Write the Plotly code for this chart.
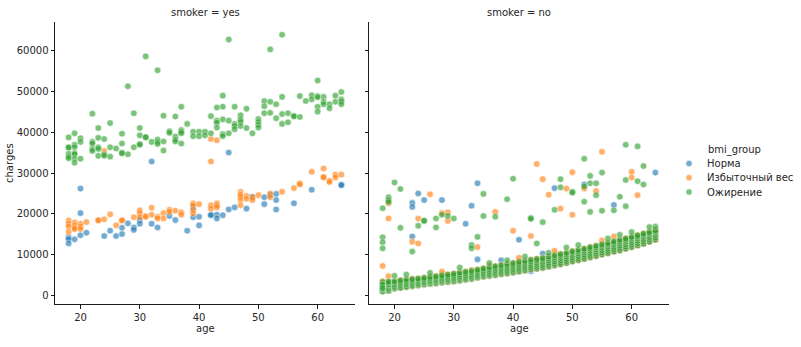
import plotly.graph_objects as go

# ---------------- data ----------------
groups = ["Норма", "Избыточный вес", "Ожирение"]
group_colors = ["#1f77b4", "#ff7f0e", "#2ca02c"]

# smoker = yes : (age, charges)
yes_normal = [(18, 14300), (18, 13800), (18, 12800), (19, 13800), (20, 26200), (20, 20200), (20, 14800),
              (21, 15400), (24, 14600), (25, 15900), (26, 14600), (27, 16600), (27, 15100), (28, 17700),
              (29, 16700), (29, 16100), (30, 18500), (30, 17600), (32, 32800), (32, 17600), (33, 16700),
              (35, 19500), (36, 18500), (38, 15900), (39, 21500), (39, 19200), (40, 19300), (40, 17200),
              (42, 19800), (42, 19700), (43, 19800), (43, 18900), (44, 19700), (45, 35000), (45, 21100),
              (46, 21600), (48, 21300), (49, 24200), (51, 24100), (51, 22400), (52, 24600), (53, 24900),
              (53, 23400), (53, 21100), (56, 22600), (59, 25900), (64, 27200), (64, 27000)]

yes_overweight = [(24, 35400), (42, 38300), (42, 32800), (43, 38000),
                  (18, 18400), (18, 17600), (18, 16900), (18, 15600), (19, 17900), (19, 17200), (19, 16600),
                  (19, 16300), (20, 17600), (20, 16900), (20, 16300), (21, 18000), (23, 18500), (23, 18400),
                  (24, 18700), (25, 19900), (26, 17200), (27, 18500), (27, 18400), (29, 19200), (30, 20900),
                  (30, 20200), (30, 19200), (31, 19500), (31, 19300), (32, 21500), (32, 19800), (33, 19300),
                  (33, 18900), (34, 20200), (34, 18900), (35, 21000), (35, 20500), (36, 20800), (37, 20400),
                  (37, 19800), (39, 22600), (39, 22100), (39, 21000), (39, 20200), (40, 22400), (42, 22100),
                  (42, 21300), (43, 22600), (43, 22100), (43, 21600), (47, 25400), (47, 24700), (47, 24200),
                  (47, 23400), (47, 22100), (48, 24400), (48, 23700), (49, 24100), (49, 23400), (50, 24600),
                  (52, 25000), (52, 24100), (54, 25400), (56, 26300), (57, 27500), (57, 27200), (59, 30300),
                  (61, 31100), (61, 29100), (61, 28900), (62, 28100), (62, 27800), (63, 29600), (63, 28900),
                  (64, 29600)]

yes_obese = [(18, 38700), (18, 36300), (18, 36200), (18, 34700), (18, 34000), (18, 33600),
             (19, 39700), (19, 36900), (19, 36300), (19, 34900), (19, 34600), (19, 33500), (19, 32500),
             (20, 38500), (20, 37600), (20, 33500),
             (22, 44500), (22, 37600), (22, 37200), (22, 35900), (22, 35400),
             (23, 41000), (23, 38600), (23, 36300), (23, 35900), (23, 34200),
             (24, 38300), (24, 34600), (24, 34200), (25, 42200), (25, 36300), (25, 34000), (26, 36000),
             (27, 39600), (27, 37200), (27, 35000), (27, 34800), (28, 51200), (28, 34600),
             (29, 44600), (29, 36300), (30, 41000), (30, 39200), (30, 37100), (30, 36900),
             (31, 58500), (31, 38800), (31, 38700), (32, 37600),
             (33, 55100), (33, 38200), (33, 37600), (33, 37100), (34, 44000), (34, 37700), (34, 35500),
             (35, 40200), (35, 39800), (36, 43800), (36, 38900), (36, 38200), (36, 37700),
             (37, 46200), (37, 40500), (37, 40100), (37, 39700), (37, 37200), (38, 42000),
             (39, 40100), (39, 39000), (40, 40100), (40, 39000), (41, 40100), (41, 39200),
             (42, 43900), (42, 39700), (43, 46000), (43, 42800), (43, 42300), (43, 41100),
             (44, 48900), (44, 46200), (44, 43100), (44, 39500), (44, 39000),
             (45, 62600), (45, 42800), (45, 39700), (46, 46200), (46, 42000), (46, 41500), (46, 40700),
             (47, 44100), (47, 43100), (47, 42500), (47, 41500), (48, 45700), (48, 41000), (49, 39700),
             (50, 43200), (50, 42500), (50, 41800), (50, 41100), (51, 47600), (51, 46300), (51, 44600),
             (52, 60200), (52, 47400), (52, 44700), (53, 46800), (53, 43400),
             (54, 63800), (54, 48600), (54, 44400), (54, 42000), (55, 44600), (55, 42400),
             (56, 44000), (56, 43800), (57, 48800), (57, 43700), (58, 47600), (59, 49000), (59, 48000),
             (60, 52600), (60, 48800), (60, 48500), (60, 46200), (60, 45000),
             (61, 48600), (61, 47400), (61, 46800), (62, 46800), (62, 45800), (63, 48900), (63, 47400),
             (64, 49800), (64, 48000), (64, 47500), (64, 46800)]

# smoker = no : points off the main band, (age, charges)
no_normal_high = [(23, 22700), (23, 21700), (23, 14500), (24, 25000), (25, 23400), (28, 23400), (32, 17600),
                  (33, 22000), (34, 27500), (34, 8900), (41, 13700), (47, 26300), (52, 27200), (57, 22200),
                  (64, 30100), (38, 8700), (45, 10300), (43, 6000)]

no_overweight_high = [(18, 7300), (19, 22600), (19, 18900), (19, 4800), (23, 13200), (24, 18900), (24, 12800),
                      (26, 24800), (28, 20200), (29, 20400), (29, 18300), (34, 11900), (37, 20500), (40, 15900),
                      (41, 9300), (43, 14600), (44, 32200), (45, 28500), (46, 24700), (48, 21300), (49, 26200),
                      (50, 30200), (50, 19800), (52, 26200), (54, 25600), (55, 35200), (57, 14500), (60, 30300),
                      (60, 28900), (61, 24600), (28, 5900), (47, 11000), (55, 13500)]

no_obese_high = [(18, 21400), (18, 14300), (18, 13100), (18, 11600), (19, 24100), (19, 23400), (19, 22900),
                 (20, 27700), (20, 4900), (21, 26100), (21, 16600), (23, 10800), (24, 17100), (25, 18200),
                 (25, 18400), (27, 16700), (27, 18900), (28, 19800), (29, 19500), (30, 18900), (33, 12400),
                 (33, 11600), (34, 14400), (35, 24900), (35, 19500), (37, 19300), (39, 23600), (40, 28600),
                 (43, 19000), (43, 18800), (44, 12800), (45, 18000), (47, 21000), (48, 28500), (48, 26500),
                 (50, 25400), (50, 25200), (52, 33500), (52, 23000), (52, 26700), (53, 29300), (53, 27500),
                 (53, 20500), (54, 27500), (54, 24600), (55, 30100), (55, 20800), (57, 20900), (58, 24200),
                 (59, 36900), (59, 28300), (59, 21900), (61, 36500), (61, 28000), (62, 31700), (62, 27200),
                 (22, 5200), (26, 5600), (31, 6900), (36, 8000), (39, 8700), (42, 9600), (46, 10500),
                 (49, 11800), (51, 12400), (56, 14000), (58, 14900), (60, 15600), (63, 16800), (64, 16900)]

# smoker = no : main band, charges listed per age
band_ages = [18, 19, 20, 21, 22, 23, 24, 25, 26, 27, 28, 29, 30, 31, 32, 33, 34, 35, 36, 37, 38, 39, 40,
             41, 42, 43, 44, 45, 46, 47, 48, 49, 50, 51, 52, 53, 54, 55, 56, 57, 58, 59, 60, 61, 62, 63, 64]

band_normal = [
    [1135, 1980, 2900, 1420], [1300, 2250, 3150], [1800, 2650, 3300], [2000, 2800, 3500],
    [2200, 3000, 3700], [2380, 3150, 3850], [2580, 3320, 3980], [2780, 3500, 4150],
    [2970, 3700, 4350], [3080, 3900, 4550], [3280, 4100, 4750], [3420, 4260, 4950],
    [3580, 4460, 5150], [3760, 4680, 5400], [3960, 4900, 5600], [4170, 5120, 5830],
    [4460, 5400, 6150], [4700, 5650, 6430], [4900, 5880, 6700], [5100, 6100, 6950],
    [5300, 6300, 7200], [5500, 6550, 7450], [5720, 6800, 7700], [5960, 7050, 7980],
    [6200, 7300, 8200], [6460, 7560, 8480], [6650, 7780, 8700], [6860, 8000, 8900],
    [7160, 8330, 9300], [7450, 8650, 9600], [7750, 8950, 9900], [8050, 9270, 10200],
    [8450, 9680, 10600], [8750, 9980, 10900], [9060, 10300, 11200], [9450, 10700, 11600],
    [9750, 11000, 11900], [10150, 11400, 12300], [10450, 11700, 12600], [10850, 12100, 13000],
    [11150, 12450, 13400], [11550, 12850, 13700], [11950, 13250, 14100], [12350, 13650, 14500],
    [12750, 14050, 14900], [13250, 14550, 15300], [13750, 15000, 15700]]

band_overweight = [
    [1140, 1725, 2395, 3050, 3600], [1265, 1960, 2700, 3420], [1760, 2410, 3020, 3560], [1950, 2600, 3200, 3760],
    [2150, 2800, 3400, 3950], [2340, 2960, 3570, 4120], [2540, 3130, 3720, 4230], [2750, 3320, 3900, 4420],
    [2940, 3510, 4100, 4620], [3050, 3690, 4290, 4810], [3240, 3880, 4480, 5230], [3380, 4040, 4660, 5210],
    [3550, 4220, 4850, 5420], [3720, 4420, 5080, 5700], [3930, 4640, 5290, 5910], [4140, 4870, 5530, 6320],
    [4430, 5140, 5800, 6400], [4680, 5400, 6070, 6710], [4880, 5620, 6330, 7350], [5080, 5840, 6560, 7250],
    [5280, 6050, 6790, 7510], [5470, 6270, 7030, 7760], [5690, 6510, 7290, 8020], [5930, 6760, 7560, 8530],
    [6170, 7010, 7810, 8520], [6430, 7280, 8090, 8820], [6620, 7490, 8310, 9030], [6830, 7720, 8550, 9230],
    [7130, 8040, 8880, 9610], [7420, 8350, 9210, 10200], [7720, 8670, 9540, 10230], [8030, 8980, 9850, 10530],
    [8420, 9390, 10260, 10920], [8720, 9690, 10560, 11220], [9030, 10010, 10880, 11530], [9420, 10410, 11280, 11910],
    [9720, 10720, 11590, 12230], [10120, 11120, 12000, 12620], [10430, 11430, 12310, 12920], [10820, 11840, 12720, 13330],
    [11120, 12160, 13060, 13710], [11530, 12560, 13440, 14030], [11920, 12960, 13850, 14430], [12330, 13360, 14240, 14820],
    [12720, 13770, 14660, 15230], [13230, 14270, 15120, 15620], [13720, 14750, 15590, 16030]]

band_obese = [
    [1121, 1137, 1631, 1712, 2198, 2203, 2639, 3385, 2710, 1880], [1241, 1261, 1625, 1842, 2304, 2640, 2803, 3180, 3480],
    [1744, 2020, 2355, 2780, 3260, 3590], [1906, 2140, 2580, 2970, 3390, 3800],
    [2110, 2330, 2755, 3120, 3560, 3990], [2310, 2520, 2880, 3300, 3710, 4090],
    [2490, 2730, 3030, 3450, 3880, 4210], [2720, 2960, 3240, 3610, 4030, 4380],
    [2900, 3150, 3440, 3800, 4230, 4590], [3010, 3330, 3620, 3980, 4400, 4790],
    [3210, 3480, 3810, 4180, 4590, 5010], [3360, 3670, 3990, 4370, 4780, 5190],
    [3520, 3830, 4190, 4570, 5000, 5400], [3700, 4010, 4390, 4790, 5230, 5690],
    [3920, 4230, 4600, 5010, 5450, 5880], [4110, 4440, 4800, 5230, 5680, 6100],
    [4410, 4720, 5090, 5520, 5960, 6380], [4650, 4980, 5370, 5790, 6240, 6690],
    [4860, 5200, 5600, 6050, 6520, 6980], [5050, 5410, 5830, 6290, 6760, 7230],
    [5260, 5620, 6050, 6520, 7010, 7490], [5450, 5830, 6280, 6760, 7260, 7740],
    [5660, 6050, 6510, 7010, 7520, 8000], [5910, 6310, 6780, 7290, 7800, 8290],
    [6150, 6560, 7030, 7540, 8050, 8510], [6410, 6820, 7300, 7830, 8340, 8800],
    [6600, 7030, 7520, 8050, 8570, 9010], [6810, 7250, 7740, 8280, 8790, 9200],
    [7110, 7560, 8070, 8610, 9140, 9590], [7400, 7860, 8380, 8930, 9460, 9900],
    [7700, 8170, 8700, 9260, 9780, 10210], [8010, 8480, 9010, 9570, 10090, 10500],
    [8400, 8880, 9420, 9980, 10490, 10900], [8700, 9180, 9720, 10290, 10790, 11190],
    [9010, 9500, 10040, 10610, 11110, 11510], [9400, 9900, 10450, 11020, 11500, 11890],
    [9700, 10200, 10760, 11330, 11810, 12210], [10100, 10610, 11170, 11740, 12220, 12600],
    [10410, 10920, 11480, 12050, 12520, 12900], [10800, 11320, 11890, 12460, 12930, 13300],
    [11100, 11640, 12220, 12810, 13300, 13690], [11510, 12040, 12610, 13190, 13630, 14010],
    [11900, 12440, 13020, 13600, 14050, 14410], [12310, 12840, 13420, 13990, 14440, 14800],
    [12700, 13250, 13840, 14410, 14850, 15210], [13210, 13750, 14320, 14880, 15290, 15600],
    [13700, 14240, 14800, 15350, 15730, 16010]]

y_ticks = [0, 10000, 20000, 30000, 40000, 50000, 60000]
x_ticks = [20, 30, 40, 50, 60]


# ---------------- helpers ----------------
def unzip(pairs):
    return [p[0] for p in pairs], [p[1] for p in pairs]


def flatten_band(rows):
    xs, ys = [], []
    for age, vals in zip(band_ages, rows):
        xs += [age] * len(vals)
        ys += vals
    return xs, ys


W, H = 801, 347
FONT = "DejaVu Sans"
TXT = "#262626"

fig = go.Figure()

marker_common = dict(size=6.6, opacity=0.62, line=dict(color="white", width=0.6))

panel_yes = [yes_normal, yes_overweight, yes_obese]
for g, col, pts in zip(groups, group_colors, panel_yes):
    xs, ys = unzip(pts)
    fig.add_trace(go.Scatter(x=xs, y=ys, mode="markers", name=g, showlegend=False,
                             marker=dict(color=col, **marker_common), xaxis="x", yaxis="y"))

panel_no_high = [no_normal_high, no_overweight_high, no_obese_high]
panel_no_band = [band_normal, band_overweight, band_obese]
for g, col, hi, band in zip(groups, group_colors, panel_no_high, panel_no_band):
    bx, by = flatten_band(band)
    hx, hy = unzip(hi)
    fig.add_trace(go.Scatter(x=bx + hx, y=by + hy, mode="markers", name=g, showlegend=False,
                             marker=dict(color=col, **marker_common), xaxis="x2", yaxis="y2"))


def px_x(v):
    return v / W


def px_y(v):
    return 1 - v / H


x_dom1 = [px_x(55), px_x(355)]
x_dom2 = [px_x(369), px_x(669)]
y_dom = [px_y(304), px_y(22)]

axis_common = dict(showline=True, linecolor="#1a1a1a", linewidth=1, showgrid=False, zeroline=False,
                   ticks="outside", ticklen=3.5, tickwidth=0.8, tickcolor="#1a1a1a",
                   tickfont=dict(family=FONT, size=10, color=TXT))

fig.update_layout(
    width=W, height=H, margin=dict(l=0, r=0, t=0, b=0),
    paper_bgcolor="white", plot_bgcolor="white",
    xaxis=dict(domain=x_dom1, range=[15.7, 66.3], tickvals=x_ticks, anchor="y", **axis_common),
    xaxis2=dict(domain=x_dom2, range=[15.7, 66.3], tickvals=x_ticks, anchor="y2", **axis_common),
    yaxis=dict(domain=y_dom, range=[-2000, 66900], tickvals=y_ticks, tickformat="d", anchor="x",
               **axis_common),
    yaxis2=dict(domain=y_dom, range=[-2000, 66900], tickvals=y_ticks, showticklabels=False, anchor="x2",
                **axis_common),
    showlegend=False,
)


def label(text, x, y, xanchor="center", **kw):
    fig.add_annotation(text=text, x=px_x(x), y=px_y(y), xref="paper", yref="paper", showarrow=False,
                       xanchor=xanchor, yanchor="middle",
                       font=dict(family=FONT, size=10, color=TXT), **kw)


label("smoker = yes", 205, 12)
label("smoker = no", 519, 12)
label("age", 205, 328)
label("age", 519, 328)
label("charges", 9, 163, textangle=-90)

# legend
label("bmi_group", 734, 150)
legend_rows = [163.5, 177.7, 192]
for g, col, yy in zip(groups, group_colors, legend_rows):
    r = 3.2
    fig.add_shape(type="circle", xref="paper", yref="paper",
                  x0=px_x(689 - r), x1=px_x(689 + r), y0=px_y(yy + r), y1=px_y(yy - r),
                  fillcolor=col, opacity=0.62, line=dict(color="white", width=0.6))
    label(g, 705, yy, xanchor="left")

fig.write_html("out.html")
